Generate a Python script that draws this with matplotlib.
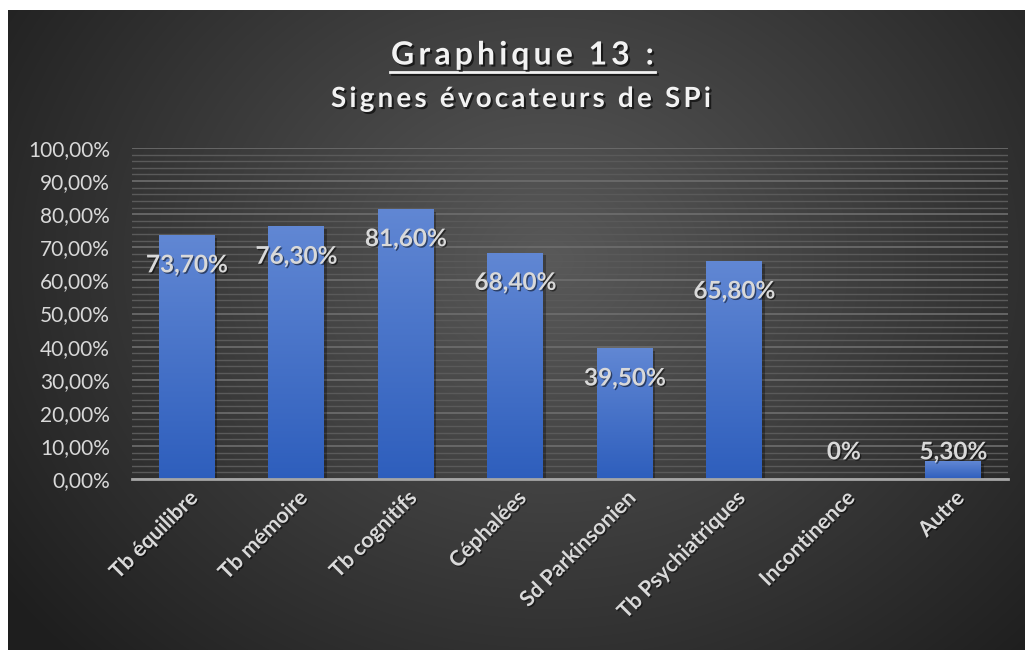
import numpy as np
import matplotlib.pyplot as plt
import matplotlib.patheffects as pe
from matplotlib.ticker import FuncFormatter, MultipleLocator

# Data
categories = ["Tb équilibre", "Tb mémoire", "Tb cognitifs", "Céphalées",
              "Sd Parkinsonien", "Tb Psychiatriques", "Incontinence", "Autre"]
values = [73.7, 76.3, 81.6, 68.4, 39.5, 65.8, 0.0, 5.3]
labels = ["73,70%", "76,30%", "81,60%", "68,40%", "39,50%", "65,80%", "0%", "5,30%"]

W, H = 1025, 650
plt.rcParams['font.family'] = ['Lato', 'DejaVu Sans']
fig = plt.figure(figsize=(W / 100, H / 100), dpi=100)
fig.patch.set_facecolor('white')

# background panel with radial gradient
bg = fig.add_axes([8 / W, 0, 1 - 8 / W, 1 - 10 / H])
yy, xx = np.mgrid[0:640, 0:1017]
r = np.sqrt(((xx - 540) / 640.0) ** 2 + ((yy - 250) / 540.0) ** 2)
shade = np.clip(0.35 - 0.22 * r, 0.12, 0.35)
bg.imshow(np.dstack([shade] * 3), aspect='auto', extent=[0, 1, 0, 1])
bg.set_axis_off()

ax = fig.add_axes([132 / W, 171 / H, 876 / W, 331 / H])
ax.set_facecolor('none')
x = np.arange(len(categories))
bars = ax.bar(x, values, width=0.51, color='#4472c4', zorder=3,
              path_effects=[pe.withSimplePatchShadow(offset=(2, -2), shadow_rgbFace='black', alpha=0.3)])

# vertical gradient inside bars
grad = np.linspace(0, 1, 256)[:, None, None]
top_c = np.array([0.38, 0.53, 0.83])
bot_c = np.array([0.18, 0.37, 0.74])
img = top_c * (1 - grad) + bot_c * grad
for b in bars:
    if b.get_height() <= 0:
        continue
    im = ax.imshow(img, aspect='auto', zorder=4,
                   extent=[b.get_x(), b.get_x() + b.get_width(), 0, b.get_height()])
    im.set_clip_path(b)

ax.set_xlim(-0.5, len(categories) - 0.5)
ax.set_ylim(0, 100)
ax.yaxis.set_major_locator(MultipleLocator(10))
ax.yaxis.set_minor_locator(MultipleLocator(2))
ax.yaxis.set_major_formatter(FuncFormatter(lambda v, p: f"{v:.2f}".replace('.', ',') + "%"))
ax.grid(axis='y', which='major', color='#6e6e6e', lw=1.2, zorder=1)
ax.grid(axis='y', which='minor', color='#5a5a5a', lw=1.0, zorder=1)
for s in ['top', 'right', 'left']:
    ax.spines[s].set_visible(False)
ax.spines['bottom'].set_color('#a6a6a6')
ax.spines['bottom'].set_linewidth(2)
ax.spines['bottom'].set_zorder(5)
ax.tick_params(axis='both', which='both', length=0)
ax.tick_params(axis='y', labelsize=15, labelcolor='#d9d9d9', pad=16)
ax.set_xticks(x)
ax.set_xticklabels(categories, rotation=45, ha='right', rotation_mode='anchor',
                   fontsize=15.5, fontweight='bold', color='#d9d9d9')
for t in ax.get_xticklabels():
    t.set_path_effects([pe.withSimplePatchShadow(offset=(1, -1), shadow_rgbFace='black', alpha=0.5)])
ax.tick_params(axis='x', pad=6)

# data labels
for xi, v, lab in zip(x, values, labels):
    ypos = max(v - 9.0, 8.2)
    ax.text(xi, ypos, lab, ha='center', va='center', fontsize=17.5, fontweight='bold',
            color='#d9d9d9', zorder=6,
            path_effects=[pe.withSimplePatchShadow(offset=(1, -1), shadow_rgbFace='black', alpha=0.5)])


# titles with letter spacing, laid out char by char to a target width
def spaced_text(s, x0, x1, yc, **kw):
    rend = fig.canvas.get_renderer()
    ts = [fig.text(0, 1 - yc / H, c, ha='left', va='center', **kw) for c in s]
    sp = fig.text(0, 0, 'a a', **kw)
    sp_w = sp.get_window_extent(rend).width - 2 * fig.text(0, 0, 'a', **kw).get_window_extent(rend).width
    for t in fig.texts[-2:]:
        t.remove()
    ws = [t.get_window_extent(rend).width if c != ' ' else sp_w for t, c in zip(ts, s)]
    gap = (x1 - x0 - sum(ws)) / (len(s) - 1)
    pos = x0
    for t, w in zip(ts, ws):
        t.set_x(pos / W)
        pos += w + gap


sh = [pe.withSimplePatchShadow(offset=(1.5, -1.5), shadow_rgbFace='black', alpha=0.6)]
spaced_text("Graphique 13 :", 391, 654, 55, fontsize=23, fontweight='bold',
            color='#f2f2f2', path_effects=sh)
fig.add_artist(plt.Line2D([390 / W, 655 / W], [1 - 72 / H, 1 - 72 / H], color='#f2f2f2', lw=2,
                          path_effects=[pe.SimpleLineShadow(offset=(1.5, -1.5), alpha=0.6), pe.Normal()]))
spaced_text("Signes évocateurs de SPi", 331, 711, 99, fontsize=20, fontweight='bold',
            color='#f2f2f2', path_effects=sh)

fig.savefig('out.png', dpi=100, facecolor=fig.get_facecolor())
